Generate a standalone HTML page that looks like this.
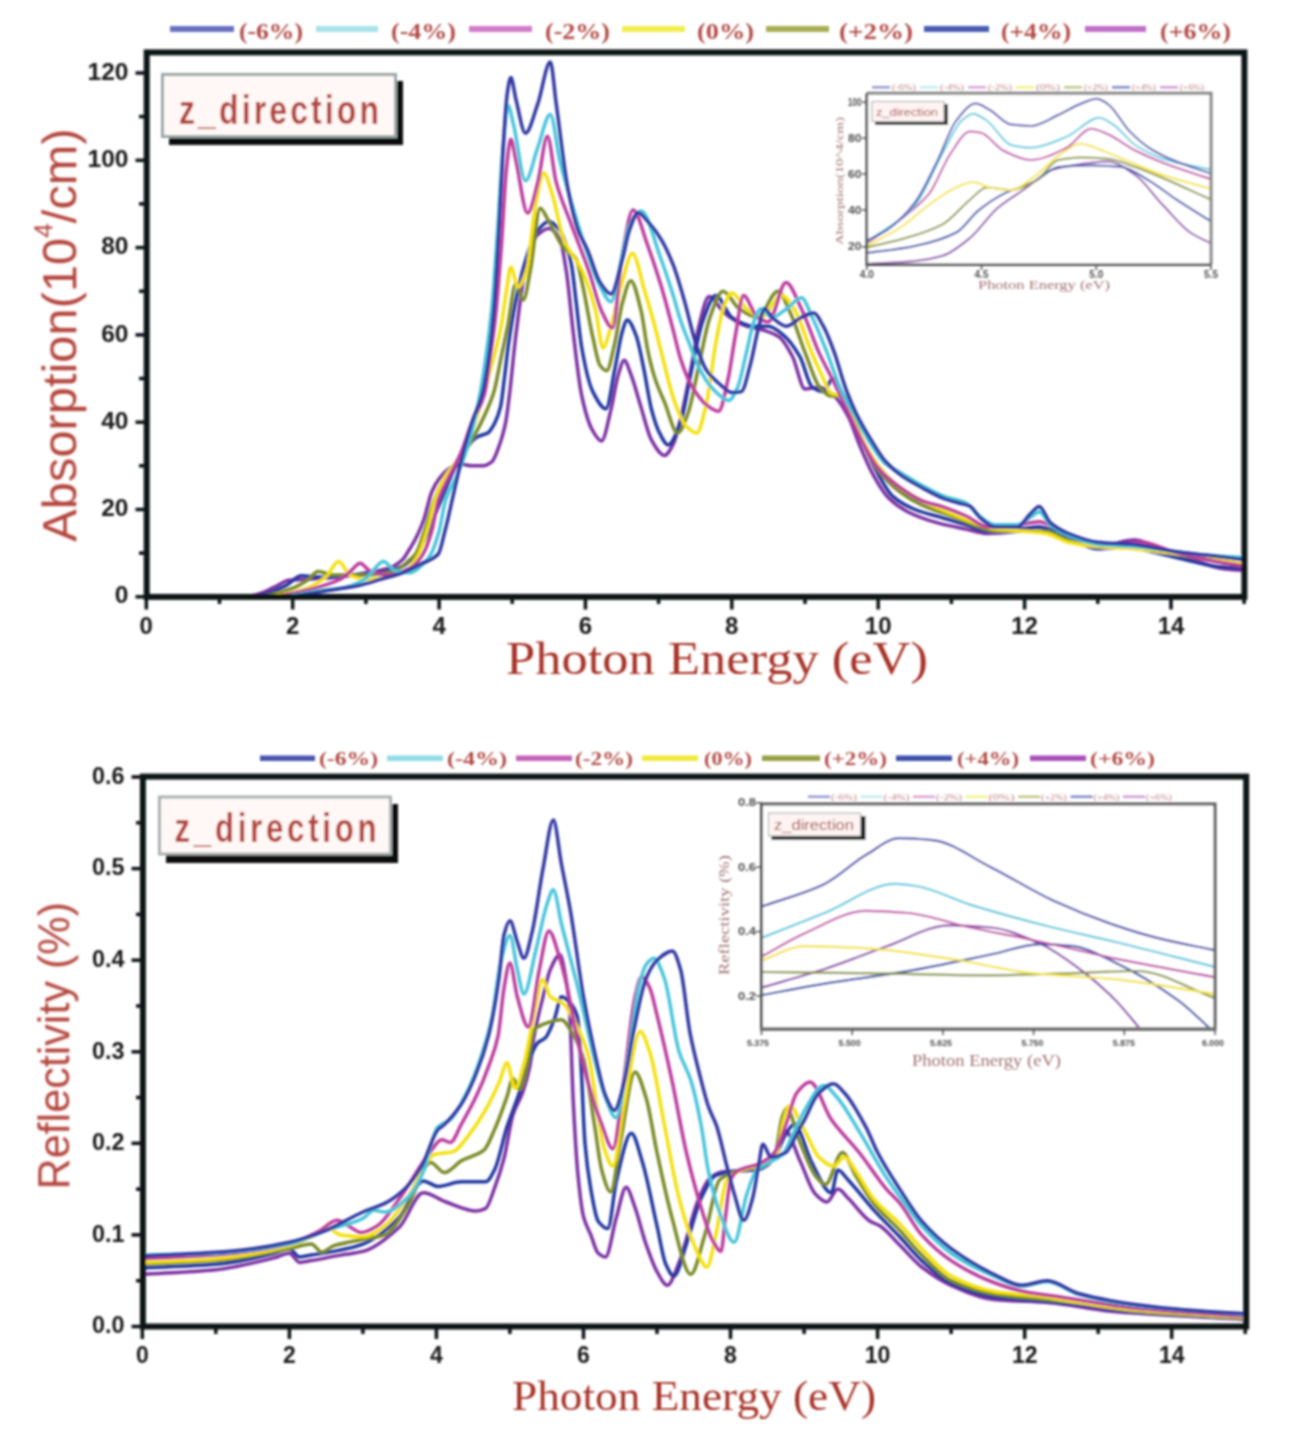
<!DOCTYPE html><html><head><meta charset="utf-8"><style>html,body{margin:0;padding:0;background:#fff;}svg{display:block;}</style></head><body>
<svg width="1300" height="1438" viewBox="0 0 1300 1438" font-family="Liberation Sans, sans-serif">
<rect width="1300" height="1438" fill="#fff"/>
<defs><filter id="bl" filterUnits="userSpaceOnUse" x="0" y="0" width="1300" height="1438"><feGaussianBlur stdDeviation="0.8"/></filter><clipPath id="ct"><rect x="146" y="52" width="1098" height="545"/></clipPath><clipPath id="cb"><rect x="142" y="777" width="1103" height="549"/></clipPath><clipPath id="cti"><rect x="867" y="94" width="344" height="170"/></clipPath><clipPath id="cbi"><rect x="762" y="803" width="452" height="226"/></clipPath></defs>
<g filter="url(#bl)">
<rect x="170" y="26" width="64" height="6" fill="#6a70c0"/>
<text x="239" y="38.5" font-family="Liberation Serif, serif" font-weight="bold" font-size="23" fill="#b24c46" textLength="64" lengthAdjust="spacingAndGlyphs">(-6%)</text>
<rect x="316" y="26" width="62" height="6" fill="#a8e2ea"/>
<text x="391" y="38.5" font-family="Liberation Serif, serif" font-weight="bold" font-size="23" fill="#b24c46" textLength="65" lengthAdjust="spacingAndGlyphs">(-4%)</text>
<rect x="469" y="26" width="63" height="6" fill="#d07cc8"/>
<text x="545" y="38.5" font-family="Liberation Serif, serif" font-weight="bold" font-size="23" fill="#b24c46" textLength="65" lengthAdjust="spacingAndGlyphs">(-2%)</text>
<rect x="622" y="26" width="63" height="6" fill="#f2ee50"/>
<text x="697" y="38.5" font-family="Liberation Serif, serif" font-weight="bold" font-size="23" fill="#b24c46" textLength="57" lengthAdjust="spacingAndGlyphs">(0%)</text>
<rect x="766" y="26" width="63" height="6" fill="#a8ae52"/>
<text x="839" y="38.5" font-family="Liberation Serif, serif" font-weight="bold" font-size="23" fill="#b24c46" textLength="74" lengthAdjust="spacingAndGlyphs">(+2%)</text>
<rect x="924" y="26" width="65" height="6" fill="#4a5cb2"/>
<text x="1001" y="38.5" font-family="Liberation Serif, serif" font-weight="bold" font-size="23" fill="#b24c46" textLength="70" lengthAdjust="spacingAndGlyphs">(+4%)</text>
<rect x="1085" y="26" width="61" height="6" fill="#c070c6"/>
<text x="1160" y="38.5" font-family="Liberation Serif, serif" font-weight="bold" font-size="23" fill="#b24c46" textLength="71" lengthAdjust="spacingAndGlyphs">(+6%)</text>
<g clip-path="url(#ct)" fill="none" stroke-width="3.5" stroke-linejoin="round">
<path d="M146.3,596.8C178.0,596.8 209.7,596.8 241.4,596.8C246.3,596.8 251.2,595.7 256.1,594.6C262.2,593.3 268.3,589.9 274.4,587.2C279.3,585.1 284.1,580.6 289.0,580.2C295.1,579.7 301.2,579.7 307.3,579.3C317.1,578.8 326.8,578.1 336.6,577.2C346.4,576.2 356.1,574.5 365.9,572.8C373.2,571.5 380.5,570.7 387.8,568.4C392.7,566.9 397.6,564.1 402.5,559.7C404.9,557.5 407.3,552.8 409.8,548.8C412.2,544.8 414.7,540.7 417.1,535.7C419.3,531.2 421.5,526.1 423.7,520.0C426.4,512.4 429.1,498.3 431.7,492.0C434.2,486.3 436.6,482.1 439.1,478.9C442.7,474.2 446.4,470.0 450.0,468.0C453.5,466.2 456.9,464.1 460.3,464.1C464.2,464.1 468.1,465.8 472.0,465.8C475.7,465.8 479.3,465.8 483.0,465.8C485.9,465.8 488.8,464.1 491.8,461.9C494.4,459.9 497.1,451.6 499.8,444.0C501.8,438.5 503.7,432.0 505.7,422.2C506.9,416.1 508.1,405.7 509.3,396.0C511.5,378.5 513.7,352.3 515.9,334.9C519.6,305.9 523.2,273.6 526.9,260.7C530.5,247.8 534.2,237.8 537.9,234.5C541.5,231.2 545.2,228.4 548.8,228.4C552.5,228.4 556.2,232.7 559.8,238.9C562.0,242.6 564.2,257.6 566.4,271.6C568.6,285.6 570.8,312.6 573.0,330.5C575.9,354.4 578.9,382.8 581.8,396.0C585.4,412.6 589.1,424.9 592.8,430.9C595.7,435.8 598.6,441.0 601.5,441.0C604.7,441.0 607.9,421.7 611.1,409.1C613.5,399.4 615.9,381.9 618.4,374.2C620.3,368.1 622.3,360.2 624.2,360.2C626.4,360.2 628.6,368.6 630.8,374.2C634.0,382.2 637.2,394.6 640.3,404.7C644.0,416.4 647.7,433.2 651.3,439.7C655.7,447.4 660.1,455.4 664.5,455.4C667.4,455.4 670.3,449.6 673.3,444.0C676.4,438.0 679.6,422.5 682.8,409.1C685.7,396.7 688.6,380.6 691.6,365.5C694.0,352.8 696.4,335.5 698.9,326.2C702.3,313.1 705.7,296.5 709.1,296.5C714.3,296.5 719.4,309.1 724.5,313.1C731.8,318.8 739.1,323.7 746.5,326.2C752.6,328.2 758.7,328.6 764.8,330.5C769.6,332.1 774.5,333.7 779.4,337.1C783.8,340.1 788.2,348.4 792.6,356.7C796.7,364.6 800.9,389.0 805.0,389.0C809.9,389.0 814.8,387.3 819.6,387.3C824.5,387.3 829.4,391.9 834.3,396.0C839.2,400.2 844.0,408.5 848.9,417.8C852.3,424.4 855.8,435.9 859.2,444.0C863.8,455.0 868.4,466.3 873.1,474.6C878.4,484.2 883.8,493.4 889.2,498.6C895.3,504.5 901.4,508.6 907.5,511.7C917.2,516.6 927.0,519.9 936.8,522.6C946.5,525.3 956.3,527.1 966.0,529.1C973.3,530.7 980.7,533.5 988.0,533.5C997.7,533.5 1007.5,532.4 1017.3,531.3C1024.6,530.5 1031.9,527.0 1039.2,527.0C1049.0,527.0 1058.7,537.1 1068.5,540.1C1078.3,543.0 1088.0,546.6 1097.8,546.6C1110.0,546.6 1122.2,540.1 1134.4,540.1C1141.7,540.1 1149.0,544.2 1156.3,546.6C1168.5,550.5 1180.7,555.7 1192.9,559.7C1202.7,562.9 1212.4,567.0 1222.2,568.4C1229.5,569.5 1236.8,569.9 1244.1,570.6" stroke="#7c30a2"/>
<path d="M146.3,596.8C180.5,596.8 214.6,596.8 248.8,596.8C253.6,596.8 258.5,595.6 263.4,594.6C270.7,593.1 278.0,589.5 285.4,585.9C290.7,583.3 296.1,575.8 301.5,575.8C308.3,575.8 315.1,577.2 322.0,577.2C331.7,577.2 341.5,575.7 351.2,575.0C361.0,574.2 370.7,574.0 380.5,572.8C387.8,571.9 395.1,569.6 402.5,566.2C406.1,564.6 409.8,561.4 413.4,557.5C417.1,553.6 420.8,547.0 424.4,540.1C428.1,533.1 431.7,522.6 435.4,513.9C439.1,505.1 442.7,496.4 446.4,487.7C448.8,481.9 451.3,475.3 453.7,470.2C457.4,462.6 461.0,455.1 464.7,450.1C468.8,444.6 473.0,439.4 477.1,437.0C480.8,434.9 484.4,435.1 488.1,432.7C490.3,431.2 492.5,427.3 494.7,423.1C496.6,419.3 498.6,415.1 500.5,406.9C501.8,401.8 503.0,389.4 504.2,379.9C505.7,368.5 507.1,353.9 508.6,343.6C511.0,326.5 513.5,311.8 515.9,300.0C519.6,282.3 523.2,267.2 526.9,256.3C530.5,245.4 534.2,234.5 537.9,230.1C541.5,225.8 545.2,221.4 548.8,221.4C552.5,221.4 556.2,225.6 559.8,230.1C562.3,233.2 564.7,240.2 567.1,247.6C568.6,252.1 570.1,257.3 571.5,265.1C573.0,272.8 574.5,288.2 575.9,300.0C577.9,315.7 579.8,337.2 581.8,348.0C585.4,368.3 589.1,384.4 592.8,391.6C597.2,400.3 601.5,408.7 605.9,408.7C608.9,408.7 611.8,383.7 614.7,369.8C617.2,358.3 619.6,340.7 622.0,332.7C623.7,327.2 625.5,320.1 627.2,320.1C630.1,320.1 633.0,327.7 635.9,334.9C638.6,341.5 641.3,357.0 644.0,369.8C646.4,381.5 648.9,399.2 651.3,408.7C653.8,418.1 656.2,426.0 658.6,430.9C661.8,437.3 665.0,444.9 668.1,444.9C672.3,444.9 676.4,433.2 680.6,422.2C684.2,412.5 687.9,386.5 691.6,369.8C695.2,353.1 698.9,331.9 702.5,321.8C706.9,309.7 711.3,295.6 715.7,295.6C721.1,295.6 726.5,314.0 731.8,317.4C739.1,322.1 746.5,326.2 753.8,326.2C758.7,326.2 763.5,326.2 768.4,326.2C773.3,326.2 778.2,330.9 783.1,334.9C788.7,339.4 794.3,347.1 799.9,356.7C804.0,363.9 808.2,384.5 812.3,387.3C816.0,389.7 819.6,391.6 823.3,391.6C826.5,391.6 829.7,378.5 832.8,378.5C835.7,378.5 838.7,386.7 841.6,391.6C845.3,397.8 848.9,405.0 852.6,413.5C855.8,420.8 858.9,431.9 862.1,439.7C866.7,451.1 871.4,461.7 876.0,470.2C881.6,480.5 887.2,491.5 892.8,496.4C900.2,502.8 907.5,506.5 914.8,509.5C924.6,513.4 934.3,515.3 944.1,518.2C951.4,520.4 958.7,522.6 966.0,524.8C973.3,527.0 980.7,531.3 988.0,531.3C997.7,531.3 1007.5,530.0 1017.3,529.1C1024.6,528.5 1031.9,527.0 1039.2,527.0C1049.0,527.0 1058.7,534.2 1068.5,537.9C1078.3,541.5 1088.0,548.8 1097.8,548.8C1107.5,548.8 1117.3,546.6 1127.0,546.6C1134.4,546.6 1141.7,549.4 1149.0,551.0C1161.2,553.6 1173.4,556.9 1185.6,559.7C1195.4,561.9 1205.1,565.2 1214.9,566.2C1224.6,567.3 1234.4,567.7 1244.1,568.4" stroke="#2038a0"/>
<path d="M146.3,596.8C182.9,596.8 219.5,596.8 256.1,596.8C261.0,596.8 265.8,595.6 270.7,594.6C278.0,593.2 285.4,590.9 292.7,588.1C297.6,586.2 302.4,583.4 307.3,580.2C311.0,577.8 314.6,571.5 318.3,571.5C323.2,571.5 328.1,575.0 332.9,575.0C343.9,575.0 354.9,575.0 365.9,575.0C375.6,575.0 385.4,573.2 395.1,570.6C400.0,569.3 404.9,563.9 409.8,559.7C411.7,558.0 413.7,556.7 415.6,554.0C418.6,550.0 421.5,539.7 424.4,531.3C427.6,522.3 430.8,508.9 433.9,500.8C438.1,490.1 442.2,480.9 446.4,474.6C451.3,467.1 456.1,463.9 461.0,457.1C465.9,450.4 470.8,442.0 475.7,433.1C478.6,427.8 481.5,422.2 484.4,415.7C487.6,408.6 490.8,402.3 494.0,391.6C496.4,383.5 498.8,368.4 501.3,356.7C503.5,346.2 505.7,336.2 507.9,325.3C510.5,312.0 513.2,283.4 515.9,283.4C518.3,283.4 520.8,300.0 523.2,300.0C525.7,300.0 528.1,281.7 530.5,269.4C533.7,253.5 536.9,208.3 540.1,208.3C543.0,208.3 545.9,216.7 548.8,221.4C553.7,229.3 558.6,241.9 563.5,247.6C567.6,252.4 571.8,252.1 575.9,258.5C578.1,261.9 580.3,275.0 582.5,284.7C585.9,299.8 589.3,322.1 592.8,337.1C595.2,347.8 597.6,362.3 600.1,365.5C602.3,368.3 604.5,370.7 606.7,370.7C609.3,370.7 612.0,354.8 614.7,343.6C617.2,333.5 619.6,313.2 622.0,304.3C625.0,293.8 627.9,280.8 630.8,280.8C634.2,280.8 637.6,297.1 641.1,310.9C643.3,319.8 645.5,339.8 647.7,350.2C650.1,361.7 652.5,371.1 655.0,378.5C658.1,388.2 661.3,394.5 664.5,402.1C668.9,412.7 673.3,433.1 677.7,433.1C681.1,433.1 684.5,422.5 687.9,413.5C691.6,403.8 695.2,381.5 698.9,365.5C702.5,349.4 706.2,327.6 709.9,317.4C714.3,305.3 718.6,291.2 723.0,291.2C728.4,291.2 733.8,305.1 739.1,308.7C745.2,312.8 751.3,317.4 757.4,317.4C764.3,317.4 771.1,291.2 777.9,291.2C782.1,291.2 786.2,304.3 790.4,313.1C795.3,323.4 800.1,340.0 805.0,352.4C809.9,364.7 814.8,381.6 819.6,387.3C823.3,391.5 827.0,396.0 830.6,396.0C834.3,396.0 837.9,396.0 841.6,396.0C845.3,396.0 848.9,409.9 852.6,417.8C856.2,425.8 859.9,436.5 863.6,444.0C868.4,454.1 873.3,463.9 878.2,470.2C885.5,479.8 892.8,486.6 900.2,492.0C907.5,497.5 914.8,501.7 922.1,505.1C931.9,509.7 941.6,512.3 951.4,516.0C958.7,518.9 966.0,522.3 973.3,524.8C980.7,527.3 988.0,531.3 995.3,531.3C1005.1,531.3 1014.8,531.3 1024.6,531.3C1031.9,531.3 1039.2,531.3 1046.5,531.3C1053.9,531.3 1061.2,537.9 1068.5,540.1C1078.3,542.9 1088.0,546.6 1097.8,546.6C1110.0,546.6 1122.2,546.6 1134.4,546.6C1146.6,546.6 1158.8,551.0 1171.0,553.1C1183.2,555.3 1195.4,557.5 1207.6,559.7C1219.8,561.9 1232.0,564.1 1244.1,566.2" stroke="#7a8a28"/>
<path d="M146.3,596.8C185.3,596.8 224.4,596.8 263.4,596.8C268.3,596.8 273.2,595.8 278.0,595.1C287.8,593.6 297.6,591.5 307.3,588.1C313.4,585.9 319.5,582.1 325.6,577.2C330.0,573.6 334.4,561.4 338.8,561.4C342.4,561.4 346.1,573.3 349.8,575.0C355.1,577.5 360.5,579.3 365.9,579.3C373.2,579.3 380.5,578.3 387.8,577.2C393.9,576.2 400.0,574.2 406.1,570.6C410.3,568.2 414.4,561.7 418.6,554.0C421.7,548.2 424.9,537.4 428.1,527.0C430.5,518.9 433.0,505.5 435.4,498.6C439.1,488.2 442.7,480.6 446.4,474.6C451.5,466.2 456.6,463.7 461.7,454.9C466.4,447.0 471.0,433.4 475.7,420.0C480.5,405.9 485.4,388.0 490.3,369.8C494.0,356.2 497.6,344.3 501.3,325.3C503.0,316.4 504.7,301.5 506.4,291.2C507.9,282.5 509.3,267.2 510.8,267.2C513.2,267.2 515.7,286.9 518.1,286.9C521.0,286.9 524.0,278.6 526.9,269.4C529.8,260.2 532.7,218.7 535.7,203.9C538.4,190.4 541.0,173.0 543.7,173.0C546.6,173.0 549.6,186.2 552.5,195.2C556.2,206.5 559.8,229.8 563.5,238.9C569.8,254.7 576.2,257.5 582.5,271.6C586.9,281.3 591.3,294.0 595.7,310.9C598.1,320.3 600.6,348.0 603.0,348.0C605.7,348.0 608.4,334.7 611.1,326.2C614.7,314.5 618.4,294.7 622.0,282.5C625.5,271.2 628.9,253.3 632.3,253.3C636.4,253.3 640.6,277.8 644.7,291.2C647.9,301.5 651.1,312.2 654.2,324.0C656.4,332.1 658.6,341.7 660.8,350.2C665.5,368.1 670.1,389.8 674.7,402.1C678.6,412.5 682.5,422.8 686.4,426.6C689.9,429.9 693.3,433.1 696.7,433.1C699.9,433.1 703.0,417.7 706.2,404.7C709.4,391.8 712.5,360.3 715.7,343.6C718.6,328.2 721.6,311.0 724.5,304.3C726.9,298.8 729.4,293.0 731.8,293.0C736.7,293.0 741.6,305.0 746.5,308.7C751.3,312.5 756.2,317.4 761.1,317.4C767.9,317.4 774.8,295.6 781.6,295.6C785.7,295.6 789.9,302.7 794.0,308.7C799.9,317.2 805.7,338.6 811.6,352.4C815.5,361.5 819.4,370.4 823.3,378.5C825.7,383.6 828.2,391.7 830.6,393.0C834.3,394.8 837.9,394.2 841.6,396.0C845.3,397.8 848.9,410.4 852.6,417.8C857.5,427.8 862.3,439.9 867.2,448.4C872.1,456.9 877.0,464.5 881.9,470.2C888.0,477.4 894.1,483.2 900.2,487.7C907.5,493.1 914.8,497.0 922.1,500.8C931.9,505.8 941.6,509.8 951.4,513.9C958.7,516.9 966.0,520.1 973.3,522.6C980.7,525.1 988.0,528.2 995.3,529.1C1005.1,530.3 1014.8,530.5 1024.6,531.3C1031.9,532.0 1039.2,532.3 1046.5,533.5C1053.9,534.7 1061.2,540.6 1068.5,542.2C1078.3,544.4 1088.0,545.8 1097.8,546.6C1110.0,547.7 1122.2,547.8 1134.4,548.8C1146.6,549.8 1158.8,551.7 1171.0,553.1C1183.2,554.6 1195.4,555.8 1207.6,557.5C1219.8,559.3 1232.0,561.9 1244.1,564.1" stroke="#f4e010"/>
<path d="M146.3,596.8C187.8,596.8 229.2,596.8 270.7,596.8C275.6,596.8 280.5,595.5 285.4,594.6C295.1,592.9 304.9,590.7 314.6,588.1C323.2,585.8 331.7,583.6 340.3,579.3C343.9,577.5 347.6,573.6 351.2,570.6C354.2,568.2 357.1,563.2 360.0,563.2C363.2,563.2 366.4,569.4 369.5,570.6C375.6,573.0 381.7,575.0 387.8,575.0C395.1,575.0 402.5,572.0 409.8,568.4C414.2,566.3 418.6,561.0 423.0,554.0C425.9,549.4 428.8,541.3 431.7,531.3C433.9,523.9 436.1,506.7 438.3,499.9C442.2,487.9 446.1,482.7 450.0,474.6C453.7,467.0 457.4,461.2 461.0,452.8C464.7,444.3 468.3,431.3 472.0,422.2C476.1,411.9 480.3,408.9 484.4,394.3C486.4,387.4 488.3,370.4 490.3,356.7C492.0,344.8 493.7,333.3 495.4,317.4C497.4,299.3 499.3,273.9 501.3,247.6C503.0,224.6 504.7,184.9 506.4,169.0C507.9,155.4 509.3,139.3 510.8,139.3C512.5,139.3 514.2,153.0 515.9,160.3C519.8,176.9 523.7,213.1 527.6,213.1C531.0,213.1 534.5,194.9 537.9,182.1C541.0,170.3 544.2,136.3 547.4,136.3C550.3,136.3 553.2,171.2 556.2,182.1C560.6,198.5 564.9,207.2 569.3,219.2C575.9,237.3 582.5,252.5 589.1,271.6C593.2,283.6 597.4,302.3 601.5,310.9C605.2,318.4 608.9,327.9 612.5,327.9C615.7,327.9 618.9,273.6 622.0,256.3C625.7,236.4 629.4,210.1 633.0,210.1C637.9,210.1 642.8,232.4 647.7,245.4C652.0,257.2 656.4,270.2 660.8,284.7C665.0,298.4 669.1,314.8 673.3,330.5C675.7,339.8 678.1,351.2 680.6,358.9C683.0,366.6 685.5,373.3 687.9,378.5C690.3,383.8 692.8,388.1 695.2,391.6C698.9,397.0 702.5,402.0 706.2,404.7C710.4,407.8 714.5,411.3 718.6,411.3C721.8,411.3 725.0,392.6 728.2,378.5C730.6,367.8 733.0,348.0 735.5,334.9C738.2,320.5 740.8,295.6 743.5,295.6C748.2,295.6 752.8,314.6 757.4,317.4C761.1,319.7 764.8,321.8 768.4,321.8C774.3,321.8 780.1,282.5 786.0,282.5C791.1,282.5 796.2,298.4 801.4,308.7C807.2,320.5 813.1,339.5 818.9,352.4C824.0,363.6 829.2,372.5 834.3,382.9C839.2,392.9 844.0,403.3 848.9,413.5C853.8,423.7 858.7,435.1 863.6,444.0C868.4,453.0 873.3,462.3 878.2,468.0C885.5,476.7 892.8,482.4 900.2,487.7C907.5,492.9 914.8,497.9 922.1,500.8C929.4,503.7 936.8,504.8 944.1,507.3C951.4,509.8 958.7,512.8 966.0,516.0C973.3,519.3 980.7,527.0 988.0,527.0C997.7,527.0 1007.5,525.7 1017.3,524.8C1024.6,524.1 1031.9,521.7 1039.2,521.7C1046.5,521.7 1053.9,528.4 1061.2,531.3C1070.9,535.3 1080.7,541.0 1090.5,542.2C1100.2,543.4 1110.0,544.4 1119.7,544.4C1127.0,544.4 1134.4,542.2 1141.7,542.2C1151.4,542.2 1161.2,548.4 1171.0,551.0C1183.2,554.2 1195.4,557.2 1207.6,559.7C1219.8,562.2 1232.0,564.1 1244.1,566.2" stroke="#bc3c9e"/>
<path d="M146.3,596.8C190.2,596.8 234.1,596.8 278.0,596.8C282.9,596.8 287.8,595.7 292.7,595.1C302.4,593.7 312.2,591.6 322.0,590.3C329.5,589.2 337.1,589.0 344.6,587.6C351.7,586.3 358.8,582.7 365.9,578.5C371.7,574.9 377.6,561.4 383.4,561.4C387.3,561.4 391.2,569.6 395.1,570.6C400.0,571.9 404.9,572.8 409.8,572.8C413.4,572.8 417.1,569.2 420.8,566.2C424.2,563.5 427.6,559.8 431.0,554.0C433.7,549.5 436.4,540.9 439.1,531.3C441.3,523.5 443.5,506.7 445.6,499.9C449.6,487.9 453.5,484.1 457.4,474.6C461.0,465.7 464.7,456.3 468.3,444.0C472.2,430.9 476.1,414.7 480.0,394.3C482.0,384.1 483.9,370.8 485.9,356.7C487.9,342.7 489.8,328.6 491.8,308.7C493.7,288.8 495.7,258.1 497.6,230.1C499.3,205.7 501.0,171.0 502.7,151.6C504.4,132.2 506.2,105.3 507.9,105.3C509.8,105.3 511.8,117.8 513.7,125.4C517.6,140.6 521.5,180.8 525.4,180.8C529.6,180.8 533.7,158.3 537.9,147.2C542.0,136.1 546.2,114.5 550.3,114.5C553.5,114.5 556.7,147.1 559.8,160.3C564.7,180.5 569.6,196.3 574.5,212.7C578.1,225.0 581.8,236.9 585.4,247.6C590.1,261.1 594.7,276.1 599.3,284.7C603.2,292.0 607.2,301.7 611.1,301.7C614.7,301.7 618.4,271.5 622.0,256.3C624.5,246.2 626.9,230.7 629.4,225.8C633.3,217.9 637.2,210.9 641.1,210.9C647.7,210.9 654.2,240.8 660.8,258.5C665.0,269.7 669.1,282.4 673.3,295.6C675.7,303.4 678.1,313.2 680.6,320.5C683.5,329.2 686.4,336.1 689.4,343.6C692.5,351.8 695.7,361.6 698.9,367.6C703.8,377.0 708.6,384.8 713.5,389.5C718.6,394.4 723.8,400.4 728.9,400.4C731.8,400.4 734.7,393.6 737.7,387.3C740.6,380.9 743.5,364.3 746.5,352.4C748.9,342.4 751.3,327.9 753.8,321.8C756.2,315.7 758.7,308.7 761.1,308.7C764.8,308.7 768.4,317.4 772.1,317.4C777.0,317.4 781.8,311.9 786.7,308.7C791.6,305.5 796.5,297.8 801.4,297.8C805.0,297.8 808.7,310.0 812.3,317.4C817.2,327.3 822.1,340.0 827.0,352.4C831.8,364.7 836.7,381.2 841.6,391.6C846.5,402.1 851.4,409.1 856.2,417.8C861.1,426.6 866.0,436.5 870.9,444.0C875.8,451.5 880.6,459.6 885.5,463.7C890.4,467.7 895.3,469.5 900.2,472.4C907.5,476.8 914.8,481.5 922.1,485.5C929.4,489.5 936.8,493.7 944.1,496.4C951.4,499.1 958.7,499.4 966.0,503.0C969.7,504.7 973.3,511.1 977.0,513.9C983.1,518.5 989.2,524.8 995.3,524.8C1002.6,524.8 1009.9,524.8 1017.3,524.8C1022.1,524.8 1027.0,519.0 1031.9,516.0C1034.3,514.6 1036.8,511.7 1039.2,511.7C1042.9,511.7 1046.5,521.8 1050.2,524.8C1056.3,529.8 1062.4,533.2 1068.5,535.7C1078.3,539.7 1088.0,543.4 1097.8,544.4C1110.0,545.7 1122.2,545.6 1134.4,546.6C1146.6,547.6 1158.8,549.5 1171.0,551.0C1183.2,552.4 1195.4,554.4 1207.6,555.3C1219.8,556.3 1232.0,556.8 1244.1,557.5" stroke="#48c4dc"/>
<path d="M146.3,596.8C192.7,596.8 239.0,596.8 285.4,596.8C290.2,596.8 295.1,595.7 300.0,595.1C309.8,593.7 319.5,591.9 329.3,590.3C339.0,588.7 348.8,587.5 358.6,585.5C365.9,583.9 373.2,581.4 380.5,579.3C387.8,577.2 395.1,575.5 402.5,572.8C408.6,570.5 414.7,567.2 420.8,564.1C426.6,561.0 432.5,560.5 438.3,554.0C440.5,551.6 442.7,539.7 444.9,531.3C447.4,522.0 449.8,510.5 452.2,499.9C455.2,487.2 458.1,473.1 461.0,461.5C464.7,447.0 468.3,433.5 472.0,422.2C475.4,411.6 478.8,407.2 482.2,394.3C484.4,386.0 486.6,372.4 488.8,356.7C490.5,344.5 492.2,329.0 494.0,308.7C495.7,288.4 497.4,255.6 499.1,225.8C500.5,200.2 502.0,165.4 503.5,142.8C504.7,124.1 505.9,103.4 507.1,94.8C508.3,86.3 509.6,77.4 510.8,77.4C512.5,77.4 514.2,92.5 515.9,99.2C519.1,111.6 522.3,133.2 525.4,133.2C529.6,133.2 533.7,115.1 537.9,103.6C542.0,92.0 546.2,62.1 550.3,62.1C552.3,62.1 554.2,89.6 556.2,103.6C560.1,131.5 564.0,168.5 567.9,188.7C571.3,206.3 574.7,220.7 578.1,230.1C581.3,238.9 584.5,242.9 587.6,250.2C591.8,259.8 595.9,276.4 600.1,282.5C603.7,287.9 607.4,293.9 611.1,293.9C614.7,293.9 618.4,273.7 622.0,260.7C624.5,252.0 626.9,236.8 629.4,230.1C632.3,222.2 635.2,212.7 638.1,212.7C641.3,212.7 644.5,218.0 647.7,221.4C652.0,226.1 656.4,231.7 660.8,238.9C665.0,245.6 669.1,254.5 673.3,265.1C676.9,274.4 680.6,287.3 684.2,300.0C687.9,312.6 691.6,330.2 695.2,341.4C698.9,352.7 702.5,364.3 706.2,369.8C711.1,377.2 716.0,381.1 720.8,385.1C724.5,388.1 728.2,392.5 731.8,392.5C735.0,392.5 738.2,392.2 741.3,391.6C744.3,391.1 747.2,375.9 750.1,365.5C753.0,355.0 756.0,336.5 758.9,326.2C760.9,319.3 762.8,308.7 764.8,308.7C767.2,308.7 769.6,315.4 772.1,317.4C777.0,321.5 781.8,326.2 786.7,326.2C791.6,326.2 796.5,319.6 801.4,317.4C805.5,315.6 809.6,313.1 813.8,313.1C817.0,313.1 820.1,320.7 823.3,326.2C827.0,332.5 830.6,342.4 834.3,352.4C837.9,362.3 841.6,377.3 845.3,387.3C848.9,397.3 852.6,405.9 856.2,413.5C861.1,423.5 866.0,431.7 870.9,439.7C875.8,447.6 880.6,456.0 885.5,461.5C890.4,466.9 895.3,471.0 900.2,474.6C907.5,479.9 914.8,483.7 922.1,487.7C929.4,491.6 936.8,495.9 944.1,498.6C949.0,500.4 953.8,501.5 958.7,503.0C962.4,504.0 966.0,504.4 969.7,506.0C973.3,507.6 977.0,515.3 980.7,518.2C985.5,522.1 990.4,527.0 995.3,527.0C1002.6,527.0 1009.9,527.0 1017.3,527.0C1021.7,527.0 1026.0,517.9 1030.4,513.9C1033.4,511.2 1036.3,506.4 1039.2,506.4C1042.9,506.4 1046.5,519.4 1050.2,522.6C1056.3,528.0 1062.4,531.0 1068.5,533.5C1078.3,537.5 1088.0,541.2 1097.8,542.2C1110.0,543.5 1122.2,543.3 1134.4,544.4C1146.6,545.5 1158.8,549.2 1171.0,551.0C1183.2,552.7 1195.4,553.9 1207.6,555.3C1219.8,556.8 1232.0,558.2 1244.1,559.7" stroke="#3038a2"/>
</g>
<rect x="146.7" y="52.4" width="1097.7" height="544.5" fill="none" stroke="#101418" stroke-width="6"/>
<line x1="135.5" y1="596.8" x2="146" y2="596.8" stroke="#101418" stroke-width="3.5"/>
<text x="128.5" y="603.4" font-weight="bold" font-size="24.5" text-anchor="end" fill="#1a1a1a">0</text>
<line x1="139" y1="553.1" x2="146" y2="553.1" stroke="#101418" stroke-width="3.5"/>
<line x1="135.5" y1="509.5" x2="146" y2="509.5" stroke="#101418" stroke-width="3.5"/>
<text x="128.5" y="516.1" font-weight="bold" font-size="24.5" text-anchor="end" fill="#1a1a1a">20</text>
<line x1="139" y1="465.8" x2="146" y2="465.8" stroke="#101418" stroke-width="3.5"/>
<line x1="135.5" y1="422.2" x2="146" y2="422.2" stroke="#101418" stroke-width="3.5"/>
<text x="128.5" y="428.8" font-weight="bold" font-size="24.5" text-anchor="end" fill="#1a1a1a">40</text>
<line x1="139" y1="378.5" x2="146" y2="378.5" stroke="#101418" stroke-width="3.5"/>
<line x1="135.5" y1="334.9" x2="146" y2="334.9" stroke="#101418" stroke-width="3.5"/>
<text x="128.5" y="341.5" font-weight="bold" font-size="24.5" text-anchor="end" fill="#1a1a1a">60</text>
<line x1="139" y1="291.2" x2="146" y2="291.2" stroke="#101418" stroke-width="3.5"/>
<line x1="135.5" y1="247.6" x2="146" y2="247.6" stroke="#101418" stroke-width="3.5"/>
<text x="128.5" y="254.2" font-weight="bold" font-size="24.5" text-anchor="end" fill="#1a1a1a">80</text>
<line x1="139" y1="203.9" x2="146" y2="203.9" stroke="#101418" stroke-width="3.5"/>
<line x1="135.5" y1="160.3" x2="146" y2="160.3" stroke="#101418" stroke-width="3.5"/>
<text x="128.5" y="166.9" font-weight="bold" font-size="24.5" text-anchor="end" fill="#1a1a1a">100</text>
<line x1="139" y1="116.6" x2="146" y2="116.6" stroke="#101418" stroke-width="3.5"/>
<line x1="135.5" y1="73.0" x2="146" y2="73.0" stroke="#101418" stroke-width="3.5"/>
<text x="128.5" y="79.6" font-weight="bold" font-size="24.5" text-anchor="end" fill="#1a1a1a">120</text>
<line x1="146.3" y1="597" x2="146.3" y2="609.5" stroke="#101418" stroke-width="3.5"/>
<text x="146.3" y="633.5" font-weight="bold" font-size="24" text-anchor="middle" fill="#1a1a1a">0</text>
<line x1="219.5" y1="597" x2="219.5" y2="604" stroke="#101418" stroke-width="3.5"/>
<line x1="292.7" y1="597" x2="292.7" y2="609.5" stroke="#101418" stroke-width="3.5"/>
<text x="292.7" y="633.5" font-weight="bold" font-size="24" text-anchor="middle" fill="#1a1a1a">2</text>
<line x1="365.9" y1="597" x2="365.9" y2="604" stroke="#101418" stroke-width="3.5"/>
<line x1="439.1" y1="597" x2="439.1" y2="609.5" stroke="#101418" stroke-width="3.5"/>
<text x="439.1" y="633.5" font-weight="bold" font-size="24" text-anchor="middle" fill="#1a1a1a">4</text>
<line x1="512.2" y1="597" x2="512.2" y2="604" stroke="#101418" stroke-width="3.5"/>
<line x1="585.4" y1="597" x2="585.4" y2="609.5" stroke="#101418" stroke-width="3.5"/>
<text x="585.4" y="633.5" font-weight="bold" font-size="24" text-anchor="middle" fill="#1a1a1a">6</text>
<line x1="658.6" y1="597" x2="658.6" y2="604" stroke="#101418" stroke-width="3.5"/>
<line x1="731.8" y1="597" x2="731.8" y2="609.5" stroke="#101418" stroke-width="3.5"/>
<text x="731.8" y="633.5" font-weight="bold" font-size="24" text-anchor="middle" fill="#1a1a1a">8</text>
<line x1="805.0" y1="597" x2="805.0" y2="604" stroke="#101418" stroke-width="3.5"/>
<line x1="878.2" y1="597" x2="878.2" y2="609.5" stroke="#101418" stroke-width="3.5"/>
<text x="878.2" y="633.5" font-weight="bold" font-size="24" text-anchor="middle" fill="#1a1a1a">10</text>
<line x1="951.4" y1="597" x2="951.4" y2="604" stroke="#101418" stroke-width="3.5"/>
<line x1="1024.6" y1="597" x2="1024.6" y2="609.5" stroke="#101418" stroke-width="3.5"/>
<text x="1024.6" y="633.5" font-weight="bold" font-size="24" text-anchor="middle" fill="#1a1a1a">12</text>
<line x1="1097.8" y1="597" x2="1097.8" y2="604" stroke="#101418" stroke-width="3.5"/>
<line x1="1171.0" y1="597" x2="1171.0" y2="609.5" stroke="#101418" stroke-width="3.5"/>
<text x="1171.0" y="633.5" font-weight="bold" font-size="24" text-anchor="middle" fill="#1a1a1a">14</text>
<line x1="1244.1" y1="597" x2="1244.1" y2="604" stroke="#101418" stroke-width="3.5"/>
<text x="506" y="674" font-family="Liberation Serif, serif" font-size="46" fill="#a8362c" textLength="422" lengthAdjust="spacingAndGlyphs">Photon Energy (eV)</text>
<text transform="translate(76.3,541.8) rotate(-90)" font-size="48.5" fill="#b4463e" textLength="413.5" lengthAdjust="spacingAndGlyphs">Absorption(10<tspan font-size="26" dy="-24">4</tspan><tspan dy="24">/cm)</tspan></text>
<rect x="169" y="81" width="234" height="64" fill="#080808"/>
<rect x="162.5" y="74.5" width="233" height="62" fill="#fff8f6" stroke="#98a6a6" stroke-width="3"/>
<text transform="translate(179,123.5) scale(0.78,1)" font-size="41" font-weight="bold" fill="#b4453c" textLength="256.4" lengthAdjust="spacing">z_direction</text>
<rect x="866.8" y="93.2" width="344.2" height="171.5" fill="#fff"/>
<g clip-path="url(#cti)" fill="none" stroke-width="2" stroke-linejoin="round" opacity="0.85">
<path d="M866.8,263.9C882.9,262.9 898.9,262.5 915.0,261.0C924.2,260.1 933.4,258.4 942.6,255.7C951.8,253.0 960.9,245.4 970.0,238.0C979.2,230.6 988.4,215.8 997.6,208.0C1006.7,200.2 1015.9,195.2 1025.1,188.8C1034.2,182.4 1043.4,172.5 1052.5,169.7C1061.8,166.8 1071.0,165.4 1080.2,164.2C1089.4,163.0 1098.6,161.5 1107.8,161.5C1116.9,161.5 1126.0,168.8 1135.2,175.0C1144.4,181.2 1153.6,195.4 1162.8,205.0C1172.0,214.5 1181.2,226.3 1190.3,232.5C1197.2,237.2 1204.1,239.8 1211.0,243.4" stroke="#7c30a2"/>
<path d="M866.8,253.0C882.9,250.7 898.9,249.3 915.0,246.0C928.8,243.2 942.5,239.6 956.3,232.5C963.7,228.7 971.0,216.4 978.3,210.6C986.6,204.0 994.8,198.4 1003.1,194.2C1014.1,188.5 1025.2,186.1 1036.2,180.6C1043.5,176.9 1050.8,167.6 1058.2,167.0C1070.1,166.1 1082.0,165.6 1093.8,165.6C1103.1,165.6 1112.3,166.2 1121.5,167.0C1130.6,167.8 1139.8,175.3 1149.0,180.6C1158.2,185.9 1167.3,193.6 1176.5,199.7C1188.0,207.3 1199.5,214.2 1211.0,221.5" stroke="#2038a0"/>
<path d="M866.8,247.5C878.3,244.8 889.8,242.6 901.3,239.3C915.1,235.4 928.8,231.6 942.6,224.3C951.8,219.4 960.9,207.1 970.0,199.7C975.6,195.3 981.1,187.4 986.6,187.4C994.8,187.4 1003.1,190.0 1011.4,190.0C1019.6,190.0 1027.9,185.1 1036.2,180.6C1043.5,176.6 1050.8,161.5 1058.2,160.0C1065.5,158.5 1072.9,157.4 1080.2,157.4C1089.4,157.4 1098.6,157.9 1107.8,158.7C1116.9,159.4 1126.0,163.9 1135.2,167.0C1144.4,170.2 1153.6,174.1 1162.8,178.0C1178.9,184.8 1194.9,192.5 1211.0,199.7" stroke="#7a8a28"/>
<path d="M866.8,246.0C878.3,239.7 889.8,234.5 901.3,227.0C910.5,221.0 919.6,211.6 928.8,205.0C937.0,199.1 945.3,192.5 953.5,188.8C960.0,185.9 966.4,182.0 972.9,182.0C978.3,182.0 983.8,186.4 989.3,187.4C996.7,188.7 1004.0,190.0 1011.4,190.0C1019.6,190.0 1027.9,180.9 1036.2,175.0C1043.5,169.8 1050.8,161.0 1058.2,156.0C1065.5,151.0 1072.9,143.7 1080.2,143.7C1087.6,143.7 1094.9,147.9 1102.2,150.5C1113.2,154.4 1124.2,159.8 1135.2,164.2C1144.4,167.9 1153.6,171.9 1162.8,175.0C1178.9,180.4 1194.9,184.2 1211.0,188.8" stroke="#f4e010"/>
<path d="M866.8,243.4C878.3,235.2 889.8,228.0 901.3,218.8C910.5,211.5 919.6,205.4 928.8,194.2C936.1,185.3 943.4,163.5 950.7,153.3C957.1,144.2 963.6,131.4 970.0,131.4C973.7,131.4 977.3,132.1 980.9,132.8C988.3,134.3 995.7,146.9 1003.1,150.5C1012.3,155.0 1021.5,160.0 1030.6,160.0C1042.6,160.0 1054.5,153.6 1066.4,147.8C1074.7,143.8 1083.0,128.7 1091.2,128.7C1096.7,128.7 1102.2,131.9 1107.8,134.2C1116.9,138.0 1126.0,145.8 1135.2,150.5C1144.4,155.2 1153.6,159.2 1162.8,162.8C1178.9,169.1 1194.9,173.7 1211.0,179.2" stroke="#bc3c9e"/>
<path d="M866.8,242.0C882.9,229.7 898.9,223.2 915.0,205.0C924.2,194.6 933.4,169.7 942.6,153.3C949.0,141.9 955.4,126.0 961.8,120.5C965.5,117.3 969.2,113.7 972.9,113.7C977.4,113.7 982.0,117.6 986.6,120.5C994.8,125.8 1003.0,143.0 1011.2,145.0C1017.6,146.6 1023.9,147.8 1030.3,147.8C1042.4,147.8 1054.4,141.7 1066.4,136.9C1077.4,132.5 1088.5,117.8 1099.5,117.8C1104.1,117.8 1108.6,121.7 1113.2,124.6C1120.5,129.2 1127.9,140.2 1135.2,145.0C1144.4,151.0 1153.6,155.7 1162.8,158.7C1178.9,163.9 1194.9,166.0 1211.0,169.7" stroke="#48c4dc"/>
<path d="M866.8,240.6C873.7,237.0 880.6,234.4 887.5,229.7C896.6,223.5 905.8,214.4 915.0,202.4C922.4,192.8 929.7,176.1 937.1,161.5C943.5,148.8 949.9,128.5 956.3,120.5C962.7,112.5 969.2,103.6 975.6,103.6C980.2,103.6 984.7,107.2 989.3,109.6C996.7,113.5 1004.0,123.7 1011.4,124.6C1017.8,125.4 1024.2,126.0 1030.6,126.0C1039.8,126.0 1049.0,119.1 1058.2,115.0C1065.5,111.7 1072.9,106.9 1080.2,104.0C1085.7,101.9 1091.2,98.7 1096.7,98.7C1100.4,98.7 1104.1,101.6 1107.8,104.0C1115.1,108.8 1122.4,124.0 1129.7,131.4C1136.2,137.9 1142.6,143.7 1149.0,147.8C1158.2,153.7 1167.3,157.7 1176.5,161.5C1188.0,166.3 1199.5,169.6 1211.0,173.7" stroke="#3038a2"/>
</g>
<path d="M866.8,93.2H1211V264.7" fill="none" stroke="#858585" stroke-width="3"/><path d="M866.8,93.2V264.7H1211" fill="none" stroke="#505050" stroke-width="2.6"/>
<rect x="872" y="86" width="18" height="2.5" fill="#6a70c0" opacity="0.7"/>
<text x="892" y="90" font-family="Liberation Serif, serif" font-size="8" fill="#c08080" textLength="24" lengthAdjust="spacingAndGlyphs">(-6%)</text>
<rect x="920" y="86" width="18" height="2.5" fill="#a8e2ea" opacity="0.7"/>
<text x="940" y="90" font-family="Liberation Serif, serif" font-size="8" fill="#c08080" textLength="24" lengthAdjust="spacingAndGlyphs">(-4%)</text>
<rect x="968" y="86" width="18" height="2.5" fill="#d07cc8" opacity="0.7"/>
<text x="988" y="90" font-family="Liberation Serif, serif" font-size="8" fill="#c08080" textLength="24" lengthAdjust="spacingAndGlyphs">(-2%)</text>
<rect x="1016" y="86" width="18" height="2.5" fill="#f2ee50" opacity="0.7"/>
<text x="1036" y="90" font-family="Liberation Serif, serif" font-size="8" fill="#c08080" textLength="24" lengthAdjust="spacingAndGlyphs">(0%)</text>
<rect x="1064" y="86" width="18" height="2.5" fill="#a8ae52" opacity="0.7"/>
<text x="1084" y="90" font-family="Liberation Serif, serif" font-size="8" fill="#c08080" textLength="24" lengthAdjust="spacingAndGlyphs">(+2%)</text>
<rect x="1112" y="86" width="18" height="2.5" fill="#4a5cb2" opacity="0.7"/>
<text x="1132" y="90" font-family="Liberation Serif, serif" font-size="8" fill="#c08080" textLength="24" lengthAdjust="spacingAndGlyphs">(+4%)</text>
<rect x="1160" y="86" width="18" height="2.5" fill="#c070c6" opacity="0.7"/>
<text x="1180" y="90" font-family="Liberation Serif, serif" font-size="8" fill="#c08080" textLength="24" lengthAdjust="spacingAndGlyphs">(+6%)</text>
<rect x="875" y="104" width="73" height="21" fill="#2a2a2a"/>
<rect x="872" y="101.5" width="72" height="20" fill="#fff4f2" stroke="#a0a8a8" stroke-width="1"/>
<text x="876" y="116" font-size="11" fill="#a05050" textLength="62" lengthAdjust="spacingAndGlyphs">z_direction</text>
<line x1="862" y1="102.2" x2="867" y2="102.2" stroke="#555" stroke-width="1.5"/>
<text x="861.5" y="105.7" font-size="10" font-weight="bold" text-anchor="end" fill="#505050" textLength="13.5" lengthAdjust="spacingAndGlyphs">100</text>
<line x1="862" y1="138.1" x2="867" y2="138.1" stroke="#555" stroke-width="1.5"/>
<text x="861.5" y="141.6" font-size="10" font-weight="bold" text-anchor="end" fill="#505050" textLength="13.5" lengthAdjust="spacingAndGlyphs">80</text>
<line x1="862" y1="174" x2="867" y2="174" stroke="#555" stroke-width="1.5"/>
<text x="861.5" y="177.5" font-size="10" font-weight="bold" text-anchor="end" fill="#505050" textLength="13.5" lengthAdjust="spacingAndGlyphs">60</text>
<line x1="862" y1="210" x2="867" y2="210" stroke="#555" stroke-width="1.5"/>
<text x="861.5" y="213.5" font-size="10" font-weight="bold" text-anchor="end" fill="#505050" textLength="13.5" lengthAdjust="spacingAndGlyphs">40</text>
<line x1="862" y1="246.8" x2="867" y2="246.8" stroke="#555" stroke-width="1.5"/>
<text x="861.5" y="250.3" font-size="10" font-weight="bold" text-anchor="end" fill="#505050" textLength="13.5" lengthAdjust="spacingAndGlyphs">20</text>
<line x1="866.8" y1="265" x2="866.8" y2="270" stroke="#555" stroke-width="1.5"/>
<line x1="981.5" y1="265" x2="981.5" y2="270" stroke="#555" stroke-width="1.5"/>
<line x1="1096.3" y1="265" x2="1096.3" y2="270" stroke="#555" stroke-width="1.5"/>
<line x1="1211" y1="265" x2="1211" y2="270" stroke="#555" stroke-width="1.5"/>
<text x="866.8" y="277.5" font-size="10" font-weight="bold" text-anchor="middle" fill="#505050">4.0</text>
<text x="981.5" y="277.5" font-size="10" font-weight="bold" text-anchor="middle" fill="#505050">4.5</text>
<text x="1096.3" y="277.5" font-size="10" font-weight="bold" text-anchor="middle" fill="#505050">5.0</text>
<text x="1211" y="277.5" font-size="10" font-weight="bold" text-anchor="middle" fill="#505050">5.5</text>
<text x="978" y="289" font-family="Liberation Serif, serif" font-size="13" fill="#a07070" textLength="132" lengthAdjust="spacingAndGlyphs">Photon Energy (eV)</text>
<text transform="translate(843,245) rotate(-90)" font-family="Liberation Serif, serif" font-size="11" fill="#a07070" textLength="128" lengthAdjust="spacingAndGlyphs">Absorption(10^4/cm)</text>
<rect x="260" y="755.5" width="55" height="5.5" fill="#4a52b0"/>
<text x="319" y="765" font-family="Liberation Serif, serif" font-weight="bold" font-size="19" fill="#b24c46" textLength="59" lengthAdjust="spacingAndGlyphs">(-6%)</text>
<rect x="387" y="755.5" width="56" height="5.5" fill="#90dce8"/>
<text x="447" y="765" font-family="Liberation Serif, serif" font-weight="bold" font-size="19" fill="#b24c46" textLength="60" lengthAdjust="spacingAndGlyphs">(-4%)</text>
<rect x="516" y="755.5" width="56" height="5.5" fill="#c460b8"/>
<text x="575" y="765" font-family="Liberation Serif, serif" font-weight="bold" font-size="19" fill="#b24c46" textLength="58" lengthAdjust="spacingAndGlyphs">(-2%)</text>
<rect x="642" y="755.5" width="56" height="5.5" fill="#f2ea3a"/>
<text x="704" y="765" font-family="Liberation Serif, serif" font-weight="bold" font-size="19" fill="#b24c46" textLength="48" lengthAdjust="spacingAndGlyphs">(0%)</text>
<rect x="762" y="755.5" width="58" height="5.5" fill="#98a045"/>
<text x="824" y="765" font-family="Liberation Serif, serif" font-weight="bold" font-size="19" fill="#b24c46" textLength="63" lengthAdjust="spacingAndGlyphs">(+2%)</text>
<rect x="896" y="755.5" width="56" height="5.5" fill="#3e50ac"/>
<text x="957" y="765" font-family="Liberation Serif, serif" font-weight="bold" font-size="19" fill="#b24c46" textLength="62" lengthAdjust="spacingAndGlyphs">(+4%)</text>
<rect x="1030" y="755.5" width="56" height="5.5" fill="#a850b8"/>
<text x="1090" y="765" font-family="Liberation Serif, serif" font-weight="bold" font-size="19" fill="#b24c46" textLength="65" lengthAdjust="spacingAndGlyphs">(+6%)</text>
<g clip-path="url(#cb)" fill="none" stroke-width="3.5" stroke-linejoin="round">
<path d="M142.3,1274.3C166.8,1272.8 191.3,1272.1 215.8,1269.7C235.4,1267.8 255.0,1262.8 274.7,1257.8C279.6,1256.6 284.5,1253.2 289.4,1253.2C292.8,1253.2 296.2,1262.4 299.7,1262.4C303.6,1262.4 307.5,1261.2 311.4,1260.6C321.2,1258.9 331.0,1256.8 340.8,1255.1C348.2,1253.8 355.5,1253.3 362.9,1251.4C375.1,1248.3 387.4,1238.2 399.7,1226.7C407.5,1219.3 415.3,1192.8 423.2,1192.8C430.8,1192.8 438.4,1199.3 446.0,1202.0C456.0,1205.5 466.1,1211.1 476.1,1211.1C479.3,1211.1 482.5,1210.0 485.7,1208.4C488.6,1206.8 491.6,1196.0 494.5,1188.2C497.7,1179.8 500.9,1170.3 504.1,1158.0C507.0,1146.7 510.0,1124.2 512.9,1115.0C516.1,1104.9 519.3,1102.0 522.5,1093.0C524.9,1086.0 527.4,1078.4 529.8,1066.4C531.3,1059.2 532.7,1043.4 534.2,1035.3C537.2,1019.0 540.1,1008.6 543.0,996.8C545.5,987.0 547.9,974.8 550.4,969.3C553.6,962.3 556.8,954.7 560.0,954.7C561.9,954.7 563.9,967.6 565.8,978.5C567.1,985.3 568.3,993.6 569.5,1008.7C570.7,1023.9 572.0,1076.3 573.2,1100.3C574.7,1129.1 576.1,1155.2 577.6,1170.8C579.6,1191.7 581.5,1209.1 583.5,1216.6C585.9,1226.0 588.4,1228.8 590.8,1234.9C593.3,1241.0 595.7,1251.2 598.2,1253.2C600.6,1255.3 603.1,1256.9 605.5,1256.9C609.2,1256.9 612.9,1228.8 616.6,1216.6C619.8,1206.0 622.9,1187.3 626.1,1187.3C629.1,1187.3 632.0,1199.5 635.0,1207.4C638.6,1217.3 642.3,1233.6 646.0,1244.1C649.7,1254.5 653.3,1265.2 657.0,1271.6C660.4,1277.5 663.9,1285.3 667.3,1285.3C671.2,1285.3 675.1,1271.8 679.1,1262.4C685.4,1247.2 691.8,1214.8 698.2,1200.1C702.4,1190.5 706.5,1180.2 710.7,1177.2C714.9,1174.3 719.0,1172.1 723.2,1171.7C730.5,1171.1 737.9,1171.3 745.2,1170.8C752.6,1170.3 760.0,1168.8 767.3,1165.3C770.2,1163.9 773.2,1157.9 776.1,1152.5C779.1,1147.1 782.0,1130.5 785.0,1130.5C790.1,1130.5 795.2,1150.9 800.4,1161.7C805.3,1171.9 810.2,1188.6 815.1,1193.7C819.0,1197.8 822.9,1202.0 826.9,1202.0C830.5,1202.0 834.2,1189.1 837.9,1189.1C841.3,1189.1 844.8,1195.0 848.2,1198.3C855.5,1205.3 862.9,1216.6 870.2,1221.2C873.4,1223.2 876.6,1223.8 879.8,1225.8C886.4,1229.8 893.0,1238.5 899.7,1245.0C907.0,1252.2 914.4,1261.3 921.7,1267.0C931.5,1274.6 941.3,1281.0 951.1,1285.3C965.3,1291.6 979.6,1298.1 993.8,1299.5C1012.7,1301.4 1031.5,1301.2 1050.4,1302.7C1069.5,1304.2 1088.6,1309.2 1107.7,1310.9C1153.6,1315.1 1199.4,1316.5 1245.2,1319.4" stroke="#7c30a2"/>
<path d="M142.3,1267.9C166.8,1266.7 191.3,1266.2 215.8,1264.2C235.4,1262.6 255.0,1258.1 274.7,1253.2C279.6,1252.0 284.5,1248.7 289.4,1248.7C292.8,1248.7 296.2,1256.9 299.7,1256.9C303.6,1256.9 307.5,1255.7 311.4,1255.1C318.8,1253.9 326.1,1252.9 333.5,1251.4C343.3,1249.5 353.1,1247.7 362.9,1244.1C375.1,1239.6 387.4,1229.2 399.7,1216.6C407.5,1208.5 415.3,1180.9 423.2,1180.9C428.1,1180.9 433.0,1186.4 437.9,1186.4C445.7,1186.4 453.6,1181.8 461.4,1181.8C469.5,1181.8 477.6,1181.8 485.7,1181.8C488.6,1181.8 491.6,1175.5 494.5,1169.9C498.7,1162.0 502.8,1139.7 507.0,1126.9C511.2,1114.0 515.3,1105.1 519.5,1092.1C522.0,1084.4 524.4,1073.1 526.9,1066.4C530.5,1056.5 534.2,1046.0 537.9,1042.6C540.3,1040.3 542.8,1040.3 545.2,1038.0C548.4,1035.0 551.6,1026.1 554.8,1017.9C557.0,1012.2 559.2,996.8 561.4,996.8C563.9,996.8 566.3,999.1 568.8,1001.4C571.7,1004.1 574.7,1007.0 577.6,1017.9C578.8,1022.4 580.0,1049.8 581.3,1070.1C582.5,1090.4 583.7,1129.1 585.0,1143.3C586.9,1166.1 588.9,1178.1 590.8,1189.1C593.3,1203.0 595.7,1217.9 598.2,1221.2C601.4,1225.5 604.6,1228.5 607.7,1228.5C610.7,1228.5 613.6,1192.1 616.6,1180.0C621.5,1159.8 626.4,1133.3 631.3,1133.3C635.0,1133.3 638.6,1149.9 642.3,1161.7C647.2,1177.3 652.1,1204.4 657.0,1225.8C660.0,1238.6 662.9,1257.8 665.8,1264.2C668.5,1270.1 671.2,1276.1 673.9,1276.1C678.1,1276.1 682.3,1255.8 686.4,1244.1C691.3,1230.3 696.2,1208.5 701.1,1198.3C706.0,1188.1 710.9,1177.3 715.8,1175.4C723.2,1172.6 730.5,1171.7 737.9,1170.8C745.2,1169.9 752.6,1170.2 760.0,1169.0C764.9,1168.2 769.8,1162.9 774.7,1157.1C778.3,1152.7 782.0,1139.5 785.7,1134.2C788.6,1129.9 791.6,1124.1 794.5,1124.1C800.1,1124.1 805.8,1151.2 811.4,1161.7C818.0,1173.9 824.7,1192.8 831.3,1192.8C833.5,1192.8 835.7,1169.9 837.9,1169.9C841.3,1169.9 844.8,1176.4 848.2,1180.0C856.5,1188.8 864.9,1200.1 873.2,1209.3C882.0,1219.0 890.8,1227.4 899.7,1236.8C907.0,1244.5 914.4,1253.9 921.7,1260.6C931.5,1269.5 941.3,1279.0 951.1,1283.5C965.8,1290.2 980.5,1295.3 995.2,1297.2C1010.0,1299.1 1024.7,1299.6 1039.4,1300.9C1049.2,1301.7 1059.0,1302.6 1068.8,1303.6C1090.8,1305.9 1112.9,1310.0 1135.0,1311.8C1171.7,1314.9 1208.5,1316.1 1245.2,1318.3" stroke="#2038a0"/>
<path d="M142.3,1264.2C166.8,1263.0 191.3,1262.4 215.8,1260.6C240.3,1258.7 264.9,1253.2 289.4,1248.7C296.7,1247.3 304.1,1244.1 311.4,1244.1C314.9,1244.1 318.3,1252.3 321.7,1252.3C325.6,1252.3 329.6,1247.2 333.5,1245.9C343.3,1242.7 353.1,1241.6 362.9,1239.5C370.2,1237.9 377.6,1237.5 384.9,1234.9C392.3,1232.3 399.7,1218.5 407.0,1207.4C414.9,1195.7 422.7,1162.6 430.5,1162.6C435.2,1162.6 439.9,1172.6 444.5,1172.6C450.1,1172.6 455.8,1164.0 461.4,1160.7C469.0,1156.4 476.6,1156.1 484.2,1149.8C487.6,1146.9 491.1,1137.3 494.5,1129.6C498.7,1120.3 502.8,1108.7 507.0,1096.6C509.0,1091.0 510.9,1078.3 512.9,1078.3C515.1,1078.3 517.3,1089.3 519.5,1089.3C522.5,1089.3 525.4,1073.5 528.3,1060.9C530.0,1053.6 531.8,1032.9 533.5,1030.7C536.7,1026.5 539.9,1025.5 543.0,1024.3C549.2,1021.9 555.3,1019.7 561.4,1019.7C565.1,1019.7 568.8,1027.5 572.5,1033.4C576.1,1039.4 579.8,1046.8 583.5,1059.1C587.2,1071.4 590.8,1102.6 594.5,1125.0C597.0,1140.0 599.4,1162.2 601.9,1170.8C604.8,1181.1 607.7,1191.9 610.7,1191.9C613.9,1191.9 617.1,1159.2 620.2,1143.3C625.1,1119.0 630.0,1071.9 635.0,1071.9C638.6,1071.9 642.3,1085.9 646.0,1097.5C649.7,1109.2 653.3,1135.3 657.0,1152.5C661.9,1175.4 666.8,1199.0 671.7,1216.6C678.1,1239.5 684.5,1274.3 690.8,1274.3C695.5,1274.3 700.1,1249.9 704.8,1234.9C709.7,1219.2 714.6,1184.4 719.5,1180.0C725.6,1174.4 731.8,1172.5 737.9,1170.8C746.5,1168.5 755.1,1169.0 763.6,1166.2C767.3,1165.0 771.0,1162.2 774.7,1156.2C777.1,1152.2 779.6,1124.7 782.0,1117.7C783.5,1113.5 785.0,1108.5 786.4,1108.5C791.1,1108.5 795.7,1132.5 800.4,1143.3C805.3,1154.7 810.2,1169.3 815.1,1175.4C818.5,1179.6 822.0,1184.6 825.4,1184.6C831.0,1184.6 836.7,1152.5 842.3,1152.5C846.7,1152.5 851.1,1168.1 855.5,1175.4C861.4,1185.1 867.3,1195.4 873.2,1202.9C882.0,1214.0 890.8,1220.8 899.7,1230.3C907.0,1238.3 914.4,1247.8 921.7,1255.1C931.5,1264.7 941.3,1276.1 951.1,1280.7C965.8,1287.7 980.5,1292.2 995.2,1294.4C1010.0,1296.7 1024.7,1297.6 1039.4,1299.0C1049.2,1300.0 1059.0,1300.7 1068.8,1301.8C1090.8,1304.2 1112.9,1308.9 1135.0,1310.9C1171.7,1314.3 1208.5,1315.8 1245.2,1318.3" stroke="#7a8a28"/>
<path d="M142.3,1262.4C166.8,1261.2 191.3,1260.6 215.8,1258.7C240.3,1256.8 264.9,1252.4 289.4,1245.9C296.7,1244.0 304.1,1240.4 311.4,1236.8C316.6,1234.2 321.7,1227.6 326.9,1227.6C331.5,1227.6 336.2,1234.2 340.8,1234.9C348.2,1236.0 355.5,1236.8 362.9,1236.8C370.2,1236.8 377.6,1231.0 384.9,1225.8C392.3,1220.5 399.7,1208.5 407.0,1198.3C416.3,1185.4 425.6,1156.7 434.9,1154.3C441.1,1152.7 447.2,1153.2 453.3,1151.6C458.5,1150.2 463.6,1141.5 468.8,1135.1C473.9,1128.7 479.1,1121.0 484.2,1112.2C489.4,1103.4 494.5,1092.7 499.7,1081.1C502.1,1075.5 504.6,1062.7 507.0,1062.7C509.7,1062.7 512.4,1088.4 515.1,1088.4C518.3,1088.4 521.5,1072.5 524.7,1060.9C528.3,1047.6 532.0,1022.2 535.7,1006.0C537.9,996.3 540.1,979.4 542.3,979.4C545.0,979.4 547.7,994.5 550.4,996.8C554.6,1000.4 558.7,1000.0 562.9,1003.2C567.3,1006.6 571.7,1015.5 576.1,1024.3C580.5,1033.0 585.0,1041.9 589.4,1059.1C591.8,1068.6 594.3,1092.0 596.7,1106.7C599.2,1121.4 601.6,1140.4 604.1,1147.9C607.0,1157.0 610.0,1166.2 612.9,1166.2C616.6,1166.2 620.2,1125.1 623.9,1106.7C629.3,1079.7 634.7,1031.6 640.1,1031.6C643.3,1031.6 646.5,1042.6 649.7,1051.8C654.6,1065.9 659.5,1100.6 664.4,1125.0C669.3,1149.4 674.2,1179.5 679.1,1198.3C684.0,1217.1 688.9,1233.2 693.8,1244.1C698.2,1253.8 702.6,1267.0 707.0,1267.0C710.0,1267.0 712.9,1247.2 715.8,1234.9C719.5,1219.6 723.2,1184.2 726.9,1180.0C733.0,1173.0 739.1,1171.2 745.2,1169.0C752.6,1166.4 760.0,1166.5 767.3,1163.5C770.2,1162.3 773.2,1160.4 776.1,1156.2C778.6,1152.6 781.0,1128.4 783.5,1120.4C785.4,1114.1 787.4,1105.8 789.4,1105.8C794.3,1105.8 799.2,1121.1 804.1,1129.6C809.0,1138.1 813.9,1152.5 818.8,1157.1C823.7,1161.7 828.6,1166.2 833.5,1166.2C837.2,1166.2 840.8,1157.1 844.5,1157.1C848.2,1157.1 851.9,1165.8 855.5,1170.8C861.4,1178.9 867.3,1191.2 873.2,1198.3C882.0,1209.0 890.8,1214.7 899.7,1223.9C907.0,1231.6 914.4,1241.1 921.7,1248.7C931.5,1258.7 941.3,1271.0 951.1,1276.1C965.8,1283.9 980.5,1289.3 995.2,1291.7C1010.0,1294.1 1024.7,1294.4 1039.4,1296.3C1049.2,1297.5 1059.0,1299.4 1068.8,1300.9C1090.8,1304.1 1112.9,1308.0 1135.0,1310.0C1171.7,1313.4 1208.5,1314.9 1245.2,1317.3" stroke="#f4e010"/>
<path d="M142.3,1258.7C166.8,1257.5 191.3,1256.9 215.8,1255.1C240.3,1253.2 264.9,1249.9 289.4,1244.1C299.2,1241.7 309.0,1236.3 318.8,1231.3C324.9,1228.1 331.0,1220.3 337.2,1220.3C340.8,1220.3 344.5,1223.9 348.2,1225.8C352.6,1228.0 357.0,1232.6 361.4,1232.6C366.8,1232.6 372.2,1229.1 377.6,1225.8C384.9,1221.2 392.3,1208.3 399.7,1198.3C409.9,1184.3 420.2,1164.2 430.5,1151.6C434.2,1147.1 437.9,1139.7 441.6,1139.7C444.5,1139.7 447.4,1142.4 450.4,1142.4C454.1,1142.4 457.7,1130.6 461.4,1124.1C466.3,1115.5 471.2,1107.0 476.1,1096.6C480.3,1087.8 484.5,1078.1 488.6,1066.4C491.8,1057.5 495.0,1050.6 498.2,1035.3C500.1,1025.8 502.1,998.5 504.1,987.7C506.0,976.8 508.0,962.9 509.9,962.9C512.4,962.9 514.9,988.2 517.3,996.8C521.0,1009.7 524.7,1027.0 528.3,1027.0C532.0,1027.0 535.7,986.0 539.4,969.3C542.5,954.9 545.7,930.9 548.9,930.9C552.4,930.9 555.8,946.0 559.2,956.5C561.9,964.7 564.6,975.7 567.3,987.7C570.0,999.6 572.7,1017.2 575.4,1029.8C579.3,1048.1 583.2,1065.1 587.2,1079.2C592.1,1096.9 597.0,1112.6 601.9,1125.0C605.5,1134.3 609.2,1148.8 612.9,1148.8C616.6,1148.8 620.2,1104.4 623.9,1079.2C627.6,1054.1 631.3,1012.2 635.0,996.8C637.2,987.6 639.4,976.7 641.6,976.7C644.3,976.7 647.0,982.2 649.7,987.7C652.1,992.6 654.6,1005.3 657.0,1015.1C661.9,1034.7 666.8,1056.4 671.7,1079.2C676.6,1102.0 681.5,1131.6 686.4,1152.5C691.3,1173.4 696.2,1191.5 701.1,1207.4C704.8,1219.4 708.5,1232.8 712.2,1239.5C715.1,1244.8 718.0,1251.4 721.0,1251.4C722.5,1251.4 723.9,1228.5 725.4,1217.5C727.1,1204.7 728.8,1183.8 730.5,1180.0C733.0,1174.5 735.4,1172.2 737.9,1170.8C745.2,1166.5 752.6,1167.0 760.0,1163.5C764.9,1161.2 769.8,1158.3 774.7,1152.5C778.3,1148.2 782.0,1134.9 785.7,1125.0C789.4,1115.2 793.0,1097.8 796.7,1093.0C801.1,1087.2 805.5,1082.0 810.0,1082.0C817.1,1082.0 824.2,1109.4 831.3,1119.5C840.6,1132.8 849.9,1140.8 859.2,1152.5C868.3,1163.9 877.4,1178.7 886.4,1189.1C890.8,1194.2 895.2,1197.6 899.7,1202.9C907.0,1211.6 914.4,1226.8 921.7,1234.9C931.5,1245.7 941.3,1254.1 951.1,1260.6C965.3,1269.9 979.6,1277.3 993.8,1282.5C1004.1,1286.4 1014.4,1289.6 1024.7,1291.7C1036.9,1294.2 1049.2,1295.4 1061.4,1297.2C1085.9,1300.9 1110.4,1305.7 1135.0,1308.2C1171.7,1311.9 1208.5,1313.7 1245.2,1316.4" stroke="#bc3c9e"/>
<path d="M142.3,1255.1C166.8,1254.5 191.3,1254.3 215.8,1253.2C240.3,1252.2 264.9,1248.9 289.4,1244.1C301.6,1241.7 313.9,1234.6 326.1,1230.3C338.4,1226.1 350.6,1224.4 362.9,1218.4C366.6,1216.6 370.2,1210.2 373.9,1210.2C377.6,1210.2 381.3,1212.0 384.9,1212.0C392.3,1212.0 399.7,1205.0 407.0,1198.3C411.9,1193.8 416.8,1185.4 421.7,1175.4C427.1,1164.4 432.5,1132.0 437.9,1126.9C442.1,1122.9 446.2,1123.0 450.4,1119.5C456.5,1114.4 462.6,1101.1 468.8,1088.4C472.7,1080.3 476.6,1069.8 480.5,1058.2C484.2,1047.3 487.9,1036.3 491.6,1019.7C494.8,1005.4 497.9,972.4 501.1,960.2C504.1,948.9 507.0,935.5 509.9,935.5C512.4,935.5 514.9,959.2 517.3,969.3C519.5,978.4 521.7,994.1 523.9,994.1C527.8,994.1 531.8,966.3 535.7,951.0C539.4,936.7 543.0,916.0 546.7,905.2C548.9,898.8 551.1,889.7 553.3,889.7C556.0,889.7 558.7,912.6 561.4,923.5C567.1,946.4 572.7,966.5 578.3,989.5C584.7,1015.4 591.1,1047.8 597.5,1071.0C600.1,1080.8 602.8,1090.9 605.5,1097.5C609.0,1106.1 612.4,1117.7 615.8,1117.7C619.8,1117.7 623.7,1082.9 627.6,1060.9C631.3,1040.3 635.0,1002.9 638.6,987.7C641.1,977.5 643.5,967.9 646.0,964.8C648.7,961.3 651.4,958.3 654.1,958.3C657.5,958.3 660.9,969.1 664.4,978.5C669.3,991.9 674.2,1036.0 679.1,1051.8C683.0,1064.3 686.9,1067.9 690.8,1080.1C694.3,1090.9 697.7,1107.1 701.1,1125.0C703.6,1137.8 706.0,1160.2 708.5,1171.7C712.2,1189.1 715.8,1202.2 719.5,1212.0C724.4,1225.1 729.3,1242.2 734.2,1242.2C738.4,1242.2 742.5,1207.1 746.7,1194.6C749.9,1185.1 753.1,1174.2 756.3,1170.8C760.0,1166.9 763.6,1165.8 767.3,1163.5C772.5,1160.3 777.6,1159.2 782.7,1154.3C786.2,1151.1 789.6,1141.1 793.0,1134.2C796.7,1126.8 800.4,1117.3 804.1,1111.3C810.7,1100.5 817.3,1085.6 823.9,1085.6C828.3,1085.6 832.7,1092.7 837.2,1097.5C844.5,1105.7 851.9,1119.6 859.2,1131.4C867.8,1145.3 876.4,1162.1 885.0,1175.4C889.9,1183.0 894.8,1189.7 899.7,1196.5C907.0,1206.6 914.4,1217.6 921.7,1225.8C931.5,1236.6 941.3,1246.4 951.1,1253.2C965.3,1263.1 979.6,1270.1 993.8,1276.1C1003.1,1280.1 1012.4,1286.2 1021.7,1286.2C1030.3,1286.2 1038.9,1281.6 1047.5,1281.6C1057.7,1281.6 1068.0,1291.6 1078.3,1294.4C1097.2,1299.6 1116.1,1303.1 1135.0,1305.4C1171.7,1309.9 1208.5,1311.5 1245.2,1314.6" stroke="#48c4dc"/>
<path d="M142.3,1256.0C166.8,1254.8 191.3,1254.0 215.8,1252.3C228.1,1251.5 240.3,1250.2 252.6,1248.7C264.9,1247.1 277.1,1245.0 289.4,1242.2C301.6,1239.5 313.9,1235.2 326.1,1230.3C338.4,1225.5 350.6,1217.4 362.9,1212.0C370.5,1208.7 378.1,1206.8 385.7,1202.9C392.3,1199.4 398.9,1194.6 405.5,1188.2C410.9,1183.0 416.3,1175.4 421.7,1166.2C427.1,1157.1 432.5,1135.4 437.9,1129.6C439.9,1127.5 441.8,1126.8 443.8,1125.0C449.7,1119.7 455.5,1112.9 461.4,1104.0C466.3,1096.5 471.2,1085.9 476.1,1073.7C480.3,1063.4 484.5,1051.9 488.6,1035.3C492.1,1021.6 495.5,1002.1 498.9,978.5C500.6,966.7 502.4,940.9 504.1,934.5C506.0,927.3 508.0,920.8 509.9,920.8C512.4,920.8 514.9,935.3 517.3,941.9C519.5,947.7 521.7,958.3 523.9,958.3C526.6,958.3 529.3,943.6 532.0,932.7C535.7,917.8 539.4,887.7 543.0,868.6C546.5,850.8 549.9,820.1 553.3,820.1C556.0,820.1 558.7,849.7 561.4,864.0C564.4,879.6 567.3,892.9 570.2,909.8C574.7,935.2 579.1,971.9 583.5,996.8C587.2,1017.6 590.8,1035.5 594.5,1051.8C598.2,1068.0 601.9,1087.2 605.5,1095.7C608.5,1102.5 611.4,1110.4 614.4,1110.4C617.5,1110.4 620.7,1095.4 623.9,1083.8C627.6,1070.4 631.3,1041.5 635.0,1024.3C638.6,1007.0 642.3,987.2 646.0,978.5C649.7,969.8 653.3,963.5 657.0,960.2C662.2,955.6 667.3,951.0 672.5,951.0C675.1,951.0 677.8,960.3 680.5,969.3C683.7,980.0 686.9,1016.8 690.1,1033.4C693.8,1052.6 697.5,1065.9 701.1,1080.1C703.6,1089.7 706.0,1099.7 708.5,1106.7C711.2,1114.5 713.9,1118.0 716.6,1125.9C720.0,1136.0 723.4,1153.1 726.9,1166.2C729.3,1175.6 731.8,1185.8 734.2,1193.7C737.4,1203.9 740.6,1220.3 743.8,1220.3C746.7,1220.3 749.7,1208.6 752.6,1198.3C754.6,1191.4 756.5,1176.4 758.5,1166.2C760.0,1158.6 761.4,1144.3 762.9,1144.3C765.6,1144.3 768.3,1157.1 771.0,1157.1C775.9,1157.1 780.8,1155.2 785.7,1152.5C789.4,1150.5 793.0,1140.7 796.7,1134.2C799.2,1129.9 801.6,1125.0 804.1,1120.4C809.0,1111.3 813.9,1097.5 818.8,1093.0C823.7,1088.4 828.6,1083.8 833.5,1083.8C837.2,1083.8 840.8,1089.1 844.5,1093.0C851.6,1100.5 858.7,1113.6 865.8,1126.9C869.8,1134.2 873.7,1145.0 877.6,1152.5C885.0,1166.6 892.3,1177.7 899.7,1189.1C907.0,1200.5 914.4,1212.7 921.7,1221.2C931.5,1232.4 941.3,1241.4 951.1,1248.7C965.3,1259.2 979.6,1267.6 993.8,1274.3C1003.1,1278.7 1012.4,1285.3 1021.7,1285.3C1030.3,1285.3 1038.9,1280.7 1047.5,1280.7C1057.7,1280.7 1068.0,1290.7 1078.3,1293.5C1097.2,1298.7 1116.1,1301.9 1135.0,1304.5C1152.1,1306.9 1169.3,1308.7 1186.4,1310.0C1206.0,1311.6 1225.6,1312.5 1245.2,1313.7" stroke="#3038a2"/>
</g>
<rect x="142.9" y="776.6" width="1103.3" height="549.9" fill="none" stroke="#101418" stroke-width="6"/>
<line x1="131.5" y1="1326.5" x2="142" y2="1326.5" stroke="#101418" stroke-width="3.5"/>
<text x="124.5" y="1333.3" font-weight="bold" font-size="24" text-anchor="end" fill="#1a1a1a" textLength="32.5" lengthAdjust="spacingAndGlyphs">0.0</text>
<line x1="136" y1="1280.7" x2="142" y2="1280.7" stroke="#101418" stroke-width="3.5"/>
<line x1="131.5" y1="1234.9" x2="142" y2="1234.9" stroke="#101418" stroke-width="3.5"/>
<text x="124.5" y="1241.7" font-weight="bold" font-size="24" text-anchor="end" fill="#1a1a1a" textLength="32.5" lengthAdjust="spacingAndGlyphs">0.1</text>
<line x1="136" y1="1189.1" x2="142" y2="1189.1" stroke="#101418" stroke-width="3.5"/>
<line x1="131.5" y1="1143.3" x2="142" y2="1143.3" stroke="#101418" stroke-width="3.5"/>
<text x="124.5" y="1150.1" font-weight="bold" font-size="24" text-anchor="end" fill="#1a1a1a" textLength="32.5" lengthAdjust="spacingAndGlyphs">0.2</text>
<line x1="136" y1="1097.5" x2="142" y2="1097.5" stroke="#101418" stroke-width="3.5"/>
<line x1="131.5" y1="1051.8" x2="142" y2="1051.8" stroke="#101418" stroke-width="3.5"/>
<text x="124.5" y="1058.6" font-weight="bold" font-size="24" text-anchor="end" fill="#1a1a1a" textLength="32.5" lengthAdjust="spacingAndGlyphs">0.3</text>
<line x1="136" y1="1006.0" x2="142" y2="1006.0" stroke="#101418" stroke-width="3.5"/>
<line x1="131.5" y1="960.2" x2="142" y2="960.2" stroke="#101418" stroke-width="3.5"/>
<text x="124.5" y="967.0" font-weight="bold" font-size="24" text-anchor="end" fill="#1a1a1a" textLength="32.5" lengthAdjust="spacingAndGlyphs">0.4</text>
<line x1="136" y1="914.4" x2="142" y2="914.4" stroke="#101418" stroke-width="3.5"/>
<line x1="131.5" y1="868.6" x2="142" y2="868.6" stroke="#101418" stroke-width="3.5"/>
<text x="124.5" y="875.4" font-weight="bold" font-size="24" text-anchor="end" fill="#1a1a1a" textLength="32.5" lengthAdjust="spacingAndGlyphs">0.5</text>
<line x1="136" y1="822.8" x2="142" y2="822.8" stroke="#101418" stroke-width="3.5"/>
<line x1="131.5" y1="777.0" x2="142" y2="777.0" stroke="#101418" stroke-width="3.5"/>
<text x="124.5" y="783.8" font-weight="bold" font-size="24" text-anchor="end" fill="#1a1a1a" textLength="32.5" lengthAdjust="spacingAndGlyphs">0.6</text>
<line x1="142.3" y1="1326" x2="142.3" y2="1339" stroke="#101418" stroke-width="3.5"/>
<text x="142.3" y="1363" font-weight="bold" font-size="23" text-anchor="middle" fill="#1a1a1a">0</text>
<line x1="215.8" y1="1326" x2="215.8" y2="1334" stroke="#101418" stroke-width="3.5"/>
<line x1="289.4" y1="1326" x2="289.4" y2="1339" stroke="#101418" stroke-width="3.5"/>
<text x="289.4" y="1363" font-weight="bold" font-size="23" text-anchor="middle" fill="#1a1a1a">2</text>
<line x1="362.9" y1="1326" x2="362.9" y2="1334" stroke="#101418" stroke-width="3.5"/>
<line x1="436.4" y1="1326" x2="436.4" y2="1339" stroke="#101418" stroke-width="3.5"/>
<text x="436.4" y="1363" font-weight="bold" font-size="23" text-anchor="middle" fill="#1a1a1a">4</text>
<line x1="509.9" y1="1326" x2="509.9" y2="1334" stroke="#101418" stroke-width="3.5"/>
<line x1="583.5" y1="1326" x2="583.5" y2="1339" stroke="#101418" stroke-width="3.5"/>
<text x="583.5" y="1363" font-weight="bold" font-size="23" text-anchor="middle" fill="#1a1a1a">6</text>
<line x1="657.0" y1="1326" x2="657.0" y2="1334" stroke="#101418" stroke-width="3.5"/>
<line x1="730.5" y1="1326" x2="730.5" y2="1339" stroke="#101418" stroke-width="3.5"/>
<text x="730.5" y="1363" font-weight="bold" font-size="23" text-anchor="middle" fill="#1a1a1a">8</text>
<line x1="804.1" y1="1326" x2="804.1" y2="1334" stroke="#101418" stroke-width="3.5"/>
<line x1="877.6" y1="1326" x2="877.6" y2="1339" stroke="#101418" stroke-width="3.5"/>
<text x="877.6" y="1363" font-weight="bold" font-size="23" text-anchor="middle" fill="#1a1a1a">10</text>
<line x1="951.1" y1="1326" x2="951.1" y2="1334" stroke="#101418" stroke-width="3.5"/>
<line x1="1024.7" y1="1326" x2="1024.7" y2="1339" stroke="#101418" stroke-width="3.5"/>
<text x="1024.7" y="1363" font-weight="bold" font-size="23" text-anchor="middle" fill="#1a1a1a">12</text>
<line x1="1098.2" y1="1326" x2="1098.2" y2="1334" stroke="#101418" stroke-width="3.5"/>
<line x1="1171.7" y1="1326" x2="1171.7" y2="1339" stroke="#101418" stroke-width="3.5"/>
<text x="1171.7" y="1363" font-weight="bold" font-size="23" text-anchor="middle" fill="#1a1a1a">14</text>
<line x1="1245.2" y1="1326" x2="1245.2" y2="1334" stroke="#101418" stroke-width="3.5"/>
<text x="512" y="1409.5" font-family="Liberation Serif, serif" font-size="43" fill="#a8362c" textLength="364" lengthAdjust="spacingAndGlyphs">Photon Energy (eV)</text>
<text transform="translate(69.3,1189.5) rotate(-90)" font-size="44" fill="#b4463e" textLength="287.5" lengthAdjust="spacingAndGlyphs">Reflectivity (%)</text>
<rect x="166" y="804" width="232" height="59" fill="#080808"/>
<rect x="159.5" y="797" width="231" height="57" fill="#fff8f6" stroke="#a8b0b0" stroke-width="3"/>
<text transform="translate(174.5,842) scale(0.78,1)" font-size="40" font-weight="bold" fill="#b4453c" textLength="259.0" lengthAdjust="spacing">z_direction</text>
<rect x="761.5" y="804" width="453.5" height="225" fill="#fff"/>
<g clip-path="url(#cbi)" fill="none" stroke-width="2.2" stroke-linejoin="round" opacity="0.9">
<path d="M761.5,987.7C782.5,981.5 803.6,975.9 824.6,969.0C845.4,962.2 866.2,953.5 887.0,946.2C907.8,939.0 928.5,925.4 949.3,925.4C963.1,925.4 977.0,926.3 990.8,927.5C1007.4,928.9 1024.1,936.6 1040.7,944.0C1054.5,950.1 1068.4,960.6 1082.2,971.0C1093.3,979.3 1104.4,989.0 1115.5,1000.2C1123.8,1008.6 1132.1,1019.6 1140.4,1029.3" stroke="#7c30a2"/>
<path d="M761.5,995.2C782.5,991.3 803.6,987.1 824.6,983.6C852.3,979.0 880.0,975.9 907.7,971.1C935.4,966.3 963.1,960.2 990.8,954.5C1007.4,951.1 1024.1,944.1 1040.7,944.1C1051.8,944.1 1062.8,945.0 1073.9,946.2C1087.8,947.7 1101.6,956.2 1115.5,962.8C1136.3,972.6 1157.0,985.1 1177.8,1000.2C1188.9,1008.2 1199.9,1019.6 1211.0,1029.3" stroke="#2038a0"/>
<path d="M761.5,972.0C796.4,972.4 831.3,972.7 866.2,973.2C907.7,973.8 949.3,975.3 990.8,975.3C1018.5,975.3 1046.2,974.0 1073.9,973.2C1094.7,972.6 1115.4,971.0 1136.2,971.0C1162.5,971.0 1188.7,989.1 1215.0,998.1" stroke="#7a8a28"/>
<path d="M761.5,960.7C775.6,955.9 789.8,946.2 803.9,946.2C824.7,946.2 845.4,947.2 866.2,948.3C893.9,949.7 921.6,954.6 949.3,958.6C977.0,962.6 1004.7,970.3 1032.4,973.2C1060.1,976.1 1087.8,976.7 1115.5,979.4C1148.7,982.6 1181.8,989.1 1215.0,994.0" stroke="#f4e010"/>
<path d="M761.5,956.6C775.6,949.0 789.8,939.9 803.9,933.7C824.7,924.5 845.4,910.9 866.2,910.9C880.0,910.9 893.9,911.9 907.7,913.0C928.5,914.7 949.2,923.0 970.0,927.5C990.8,932.0 1011.6,935.6 1032.4,940.0C1060.1,945.8 1087.8,952.9 1115.5,958.6C1148.7,965.4 1181.8,971.1 1215.0,977.3" stroke="#bc3c9e"/>
<path d="M761.5,937.9C782.5,929.6 803.6,921.5 824.6,913.0C848.2,903.5 871.7,883.9 895.3,883.9C902.2,883.9 909.1,885.0 916.0,886.0C934.0,888.6 952.0,899.0 970.0,904.6C997.7,913.1 1025.3,920.6 1053.0,927.5C1073.8,932.7 1094.7,937.0 1115.5,942.0C1148.7,950.0 1181.8,958.7 1215.0,967.0" stroke="#48c4dc"/>
<path d="M761.5,906.7C782.5,899.1 803.6,894.1 824.6,883.9C838.5,877.1 852.3,862.8 866.2,854.8C877.3,848.4 888.3,838.2 899.4,838.2C910.5,838.2 921.6,839.1 932.7,840.2C952.1,842.1 971.4,857.6 990.8,867.2C1011.5,877.5 1032.3,891.0 1053.0,900.5C1073.8,910.0 1094.7,918.3 1115.5,925.4C1129.3,930.1 1143.2,934.4 1157.0,937.9C1176.3,942.8 1195.7,946.2 1215.0,950.3" stroke="#3038a2"/>
</g>
<rect x="761.5" y="804" width="453.5" height="225" fill="none" stroke="#5a5a5a" stroke-width="3"/>
<line x1="761" y1="1029" x2="1216" y2="1029" stroke="#777" stroke-width="4"/>
<rect x="808.0" y="795.5" width="22" height="2.5" fill="#6a70c0" opacity="0.7"/>
<text x="831.0" y="799.5" font-family="Liberation Serif, serif" font-size="8" fill="#c08080" textLength="26" lengthAdjust="spacingAndGlyphs">(-6%)</text>
<rect x="860.5" y="795.5" width="22" height="2.5" fill="#a8e2ea" opacity="0.7"/>
<text x="883.5" y="799.5" font-family="Liberation Serif, serif" font-size="8" fill="#c08080" textLength="26" lengthAdjust="spacingAndGlyphs">(-4%)</text>
<rect x="913.0" y="795.5" width="22" height="2.5" fill="#d07cc8" opacity="0.7"/>
<text x="936.0" y="799.5" font-family="Liberation Serif, serif" font-size="8" fill="#c08080" textLength="26" lengthAdjust="spacingAndGlyphs">(-2%)</text>
<rect x="965.5" y="795.5" width="22" height="2.5" fill="#f2ee50" opacity="0.7"/>
<text x="988.5" y="799.5" font-family="Liberation Serif, serif" font-size="8" fill="#c08080" textLength="26" lengthAdjust="spacingAndGlyphs">(0%)</text>
<rect x="1018.0" y="795.5" width="22" height="2.5" fill="#a8ae52" opacity="0.7"/>
<text x="1041.0" y="799.5" font-family="Liberation Serif, serif" font-size="8" fill="#c08080" textLength="26" lengthAdjust="spacingAndGlyphs">(+2%)</text>
<rect x="1070.5" y="795.5" width="22" height="2.5" fill="#4a5cb2" opacity="0.7"/>
<text x="1093.5" y="799.5" font-family="Liberation Serif, serif" font-size="8" fill="#c08080" textLength="26" lengthAdjust="spacingAndGlyphs">(+4%)</text>
<rect x="1123.0" y="795.5" width="22" height="2.5" fill="#c070c6" opacity="0.7"/>
<text x="1146.0" y="799.5" font-family="Liberation Serif, serif" font-size="8" fill="#c08080" textLength="26" lengthAdjust="spacingAndGlyphs">(+6%)</text>
<rect x="771.5" y="816" width="94" height="24" fill="#1a1a1a"/>
<rect x="768.5" y="813" width="92" height="23" fill="#fff4f2" stroke="#a0a8a8" stroke-width="1"/>
<text x="774" y="830" font-size="14" fill="#a05050" textLength="80" lengthAdjust="spacingAndGlyphs">z_direction</text>
<line x1="756" y1="802.8" x2="762" y2="802.8" stroke="#555" stroke-width="1.5"/>
<text x="756" y="806.3" font-size="10" font-weight="bold" text-anchor="end" fill="#505050" textLength="18" lengthAdjust="spacingAndGlyphs">0.8</text>
<line x1="756" y1="867.2" x2="762" y2="867.2" stroke="#555" stroke-width="1.5"/>
<text x="756" y="870.7" font-size="10" font-weight="bold" text-anchor="end" fill="#505050" textLength="18" lengthAdjust="spacingAndGlyphs">0.6</text>
<line x1="756" y1="931.6" x2="762" y2="931.6" stroke="#555" stroke-width="1.5"/>
<text x="756" y="935.1" font-size="10" font-weight="bold" text-anchor="end" fill="#505050" textLength="18" lengthAdjust="spacingAndGlyphs">0.4</text>
<line x1="756" y1="996" x2="762" y2="996" stroke="#555" stroke-width="1.5"/>
<text x="756" y="999.5" font-size="10" font-weight="bold" text-anchor="end" fill="#505050" textLength="18" lengthAdjust="spacingAndGlyphs">0.2</text>
<line x1="761.5" y1="1029" x2="761.5" y2="1035" stroke="#555" stroke-width="1.5"/>
<line x1="852.2" y1="1029" x2="852.2" y2="1035" stroke="#555" stroke-width="1.5"/>
<line x1="942.9" y1="1029" x2="942.9" y2="1035" stroke="#555" stroke-width="1.5"/>
<line x1="1033.6" y1="1029" x2="1033.6" y2="1035" stroke="#555" stroke-width="1.5"/>
<line x1="1124.3" y1="1029" x2="1124.3" y2="1035" stroke="#555" stroke-width="1.5"/>
<line x1="1215" y1="1029" x2="1215" y2="1035" stroke="#555" stroke-width="1.5"/>
<text x="758" y="1045.5" font-size="9" font-weight="bold" text-anchor="middle" fill="#505050" textLength="22" lengthAdjust="spacingAndGlyphs">5.375</text>
<text x="849.6" y="1045.5" font-size="9" font-weight="bold" text-anchor="middle" fill="#505050" textLength="22" lengthAdjust="spacingAndGlyphs">5.500</text>
<text x="941" y="1045.5" font-size="9" font-weight="bold" text-anchor="middle" fill="#505050" textLength="22" lengthAdjust="spacingAndGlyphs">5.625</text>
<text x="1032.4" y="1045.5" font-size="9" font-weight="bold" text-anchor="middle" fill="#505050" textLength="22" lengthAdjust="spacingAndGlyphs">5.750</text>
<text x="1123.8" y="1045.5" font-size="9" font-weight="bold" text-anchor="middle" fill="#505050" textLength="22" lengthAdjust="spacingAndGlyphs">5.875</text>
<text x="1213" y="1045.5" font-size="9" font-weight="bold" text-anchor="middle" fill="#505050" textLength="22" lengthAdjust="spacingAndGlyphs">6.000</text>
<text x="912" y="1066" font-family="Liberation Serif, serif" font-size="16" fill="#a07070" textLength="149" lengthAdjust="spacingAndGlyphs">Photon Energy (eV)</text>
<text transform="translate(729,975) rotate(-90)" font-family="Liberation Serif, serif" font-size="14" fill="#a07070" textLength="120" lengthAdjust="spacingAndGlyphs">Reflectivity (%)</text>
</g>
</svg></body></html>
